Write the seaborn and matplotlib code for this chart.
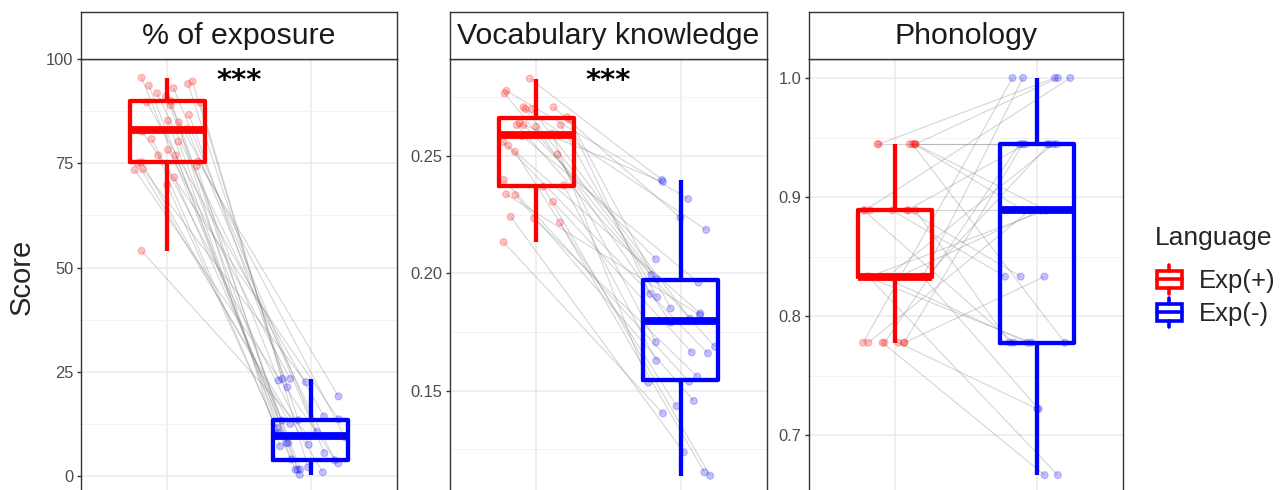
import numpy as np
import pandas as pd
import matplotlib
matplotlib.use("Agg")
import matplotlib.pyplot as plt
import seaborn as sns
from matplotlib.legend_handler import HandlerBase
from matplotlib.lines import Line2D
from matplotlib.patches import Rectangle

# ---------------- data ----------------
panels = ["% of exposure", "Vocabulary knowledge", "Phonology"]
languages = ["Exp(+)", "Exp(-)"]
legend_title = "Language"
y_label = "Score"
signif = ["***", "***", ""]

exposure_pos = [54.0, 69.8, 71.6, 73.4, 73.6, 74.3, 75.0, 75.3, 75.4, 76.9,
                76.9, 78.2, 80.2, 80.8, 82.6, 83.2, 84.8, 85.2, 86.6, 88.9,
                89.5, 89.6, 89.9, 91.0, 91.8, 93.0, 93.6, 94.0, 94.6, 95.5]
exposure_neg = [9.7, 1.5, 13.3, 3.0, 22.5, 7.9, 0.9, 12.5, 19.1, 4.0,
                10.3, 23.3, 1.6, 7.5, 13.6, 5.5, 0.3, 11.5, 21.3, 9.3,
                2.1, 14.3, 7.1, 22.9, 3.8, 10.6, 1.5, 13.4, 23.3, 7.9]

vocab_pos = [0.2133, 0.2216, 0.2234, 0.2241, 0.2305, 0.2334, 0.2337, 0.2369, 0.2375, 0.2398,
             0.2507, 0.2518, 0.2544, 0.2560, 0.2585, 0.2595, 0.2625, 0.2632, 0.2632, 0.2632,
             0.2640, 0.2655, 0.2665, 0.2700, 0.2700, 0.2708, 0.2708, 0.2767, 0.2778, 0.2830]
vocab_neg = [0.1403, 0.1152, 0.1560, 0.1237, 0.1663, 0.1456, 0.1822, 0.1137, 0.1627, 0.1538,
             0.1706, 0.1434, 0.1829, 0.1659, 0.1960, 0.1534, 0.1790, 0.1898, 0.1687, 0.2060,
             0.2390, 0.1850, 0.1912, 0.2185, 0.1806, 0.1975, 0.2237, 0.1993, 0.2317, 0.2398]

phon_pos = [0.7778, 0.7778, 0.7778, 0.7778, 0.7778, 0.7778, 0.7778,
            0.8333, 0.8333, 0.8333, 0.8333, 0.8333, 0.8333, 0.8333, 0.8333, 0.8333,
            0.8889, 0.8889, 0.8889, 0.8889, 0.8889, 0.8889, 0.8889,
            0.9444, 0.9444, 0.9444, 0.9444, 0.9444, 0.9444, 0.9444]
phon_neg = [1.0, 0.8889, 0.7222, 0.9444, 0.6667, 0.8333, 0.9444, 0.8889, 0.7778, 0.9444,
            1.0, 0.6667, 0.7778, 0.8889, 0.9444, 0.7222, 0.8333, 1.0, 0.7778, 0.9444,
            0.8889, 0.8333, 0.7778, 1.0, 0.9444, 0.8889, 0.7778, 1.0, 0.8889, 0.9444]

yticks = [[0, 25, 50, 75, 100], [0.15, 0.20, 0.25], [0.7, 0.8, 0.9, 1.0]]
ytick_labels = [["0", "25", "50", "75", "100"], ["0.15", "0.20", "0.25"],
                ["0.7", "0.8", "0.9", "1.0"]]
yminor = [[12.5, 37.5, 62.5, 87.5], [0.125, 0.175, 0.225, 0.275], [0.65, 0.75, 0.85, 0.95]]
ylims = [(-4.55, 99.95), (0.1055, 0.29135), (0.6505, 1.0159)]

# ---------------- style ----------------
palette = {"Exp(+)": "#FF0000", "Exp(-)": "#0000FF"}
sns.set_theme(style="white")
plt.rcParams["font.family"] = ["Liberation Sans", "DejaVu Sans"]

W, H = 1288, 490
fig = plt.figure(figsize=(W / 100, H / 100), dpi=100)

panel_x = [(81, 397), (450, 767), (809, 1123)]
panel_top, panel_bot = 59, 495
strip_top = 12

series = [(exposure_pos, exposure_neg), (vocab_pos, vocab_neg), (phon_pos, phon_neg)]

rng = np.random.default_rng(11)

for i, (pname, (pos_vals, neg_vals)) in enumerate(zip(panels, series)):
    x0, x1 = panel_x[i]
    ax = fig.add_axes([x0 / W, 1 - panel_bot / H, (x1 - x0) / W, (panel_bot - panel_top) / H])
    n = len(pos_vals)
    df = pd.DataFrame({
        "Subject": list(range(n)) * 2,
        "Language": [languages[0]] * n + [languages[1]] * n,
        "Score": list(pos_vals) + list(neg_vals),
    })
    df["code"] = df["Language"].map({languages[0]: 0, languages[1]: 1})
    df["xj"] = df["code"] + rng.uniform(-0.24, 0.24, len(df))

    sns.boxplot(data=df, x="Language", y="Score", hue="Language", order=languages,
                hue_order=languages, palette=palette, fill=False, width=0.52,
                linewidth=3.1, showcaps=False, showfliers=False,
                medianprops={"linewidth": 5.6}, legend=False, ax=ax)
    sns.lineplot(data=df, x="xj", y="Score", units="Subject", estimator=None, sort=False,
                 color="#808080", alpha=0.33, linewidth=0.8, legend=False, ax=ax, zorder=1.2)
    sns.scatterplot(data=df, x="xj", y="Score", hue="Language", palette=palette,
                    s=24, alpha=0.22, edgecolor="face", linewidth=1.0, legend=False,
                    ax=ax, zorder=1.5)

    ax.set_xlim(-0.6, 1.6)
    ax.set_ylim(*ylims[i])
    ax.set_xticks([0, 1])
    ax.set_xticklabels(["", ""])
    ax.set_yticks(yticks[i])
    ax.set_yticklabels(ytick_labels[i])
    ax.set_yticks(yminor[i], minor=True)
    ax.set_xlabel("")
    ax.set_ylabel("")
    ax.set_axisbelow(True)
    ax.grid(True, which="major", color="#EBEBEB", linewidth=1.1)
    ax.grid(True, which="minor", axis="y", color="#F2F2F2", linewidth=0.7)
    ax.tick_params(axis="y", which="major", length=3, width=1, color="#333333",
                   labelsize=11.9, labelcolor="#4D4D4D", pad=2.5, left=True)
    ax.tick_params(axis="y", which="minor", length=0)
    ax.tick_params(axis="x", length=3, color="#333333")
    for sp in ax.spines.values():
        sp.set_color("#333333")
        sp.set_linewidth(1.0)
    ax.set_facecolor("white")

    if signif[i]:
        ax.text(0.5, 0.949, signif[i], transform=ax.transAxes, ha="center", va="center",
                fontsize=21, family="DejaVu Sans", fontweight="bold", color="black")

    sax = fig.add_axes([x0 / W, 1 - panel_top / H, (x1 - x0) / W, (panel_top - strip_top) / H])
    sax.set_xticks([])
    sax.set_yticks([])
    sax.set_facecolor("white")
    for sp in sax.spines.values():
        sp.set_color("#333333")
        sp.set_linewidth(1.0)
    sax.text(0.5, 0.5, pname, ha="center", va="center", fontsize=21.8, color="#1A1A1A",
             transform=sax.transAxes)

fig.text(22 / W, 1 - 277 / H, y_label, rotation=90, ha="center", va="center", fontsize=21)


class BoxKeyHandler(HandlerBase):
    def create_artists(self, legend, orig_handle, xdescent, ydescent, width, height,
                       fontsize, trans):
        c = orig_handle.get_color()
        lw = 2.6
        x0, y0 = -xdescent, -ydescent
        xm = x0 + width / 2
        box = Rectangle((x0 + 0.06 * width, y0 + 0.14 * height), 0.88 * width, 0.72 * height,
                        fill=False, edgecolor=c, linewidth=lw, transform=trans)
        w1 = Line2D([xm, xm], [y0 - 0.12 * height, y0 + 0.14 * height], color=c, lw=lw,
                    transform=trans)
        w2 = Line2D([xm, xm], [y0 + 0.86 * height, y0 + 1.12 * height], color=c, lw=lw,
                    transform=trans)
        med = Line2D([x0 + 0.06 * width, x0 + 0.94 * width], [y0 + 0.5 * height] * 2,
                     color=c, lw=lw, transform=trans)
        return [w1, w2, box, med]


fig.text(1155 / W, 1 - 238 / H, legend_title, ha="left", va="center", fontsize=19)
handles = [Line2D([], [], color=palette[l]) for l in languages]
fig.legend(handles, languages, handler_map={Line2D: BoxKeyHandler()},
           loc="center left", bbox_to_anchor=(1155 / W, 1 - 297 / H), frameon=False,
           fontsize=18.5, handlelength=1.1, handleheight=1.0,
           handletextpad=0.6, labelspacing=0.3, borderpad=0, borderaxespad=0)

fig.savefig("out.png", dpi=100)
